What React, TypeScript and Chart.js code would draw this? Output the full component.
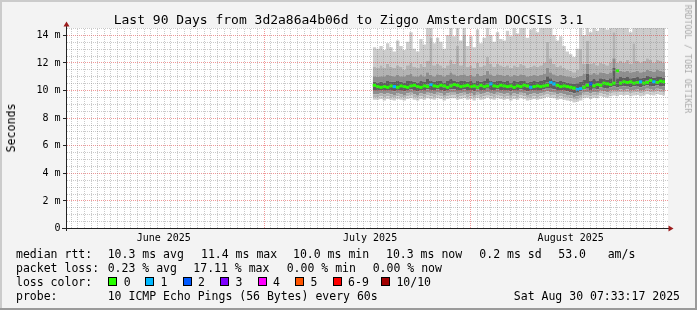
import React, { useEffect, useRef } from "react";
import { Chart, registerables } from "chart.js";

Chart.register(...registerables);

// x values are days since 2025-06-01 00:00
const X_MIN = 0.315; // Jun 1 07:33
const X_MAX = 90.315; // Aug 30 07:33
const Y_MAX = 14.5; // ms
const T0 = 46.4; // first sample (Jul 17)
const STEP = 0.5; // days between samples

const yTickValues = [0, 2, 4, 6, 8, 10, 12, 14];
const yTickLabels = ["0", "2 m", "4 m", "6 m", "8 m", "10 m", "12 m", "14 m"];
const monthLabels = ["June 2025", "July 2025", "August 2025"];
const monthLabelDays = [15.0, 46.0, 76.15];
const monthStartDays = [30, 61];

// smoke boundaries (ms), bottom to top
const lo4 = [
  9.4, 9.3, 9.3, 9.35, 9.25, 9.35, 9.3, 9.25, 9.35, 9.3,
  9.25, 9.35, 9.4, 9.3, 9.25, 9.35, 9.3, 9.4, 9.35, 9.3,
  9.4, 9.35, 9.25, 9.35, 9.4, 9.4, 9.3, 9.35, 9.4, 9.3,
  9.35, 9.25, 9.4, 9.3, 9.35, 9.45, 9.35, 9.3, 9.4, 9.35,
  9.3, 9.35, 9.25, 9.35, 9.3, 9.4, 9.35, 9.25, 9.3, 9.35,
  9.3, 9.35, 9.4, 9.5, 9.45, 9.4, 9.3, 9.35, 9.3, 9.25,
  9.2, 9.1, 9.15, 9.25, 9.4, 9.45, 9.35, 9.45, 9.4, 9.55,
  9.5, 9.45, 9.55, 9.6, 9.55, 9.65, 9.6, 9.65, 9.55, 9.6,
  9.65, 9.55, 9.6, 9.7, 9.65, 9.6, 9.7, 9.65, 9.6,
];
const lo3 = [
  9.6, 9.5, 9.5, 9.55, 9.5, 9.55, 9.5, 9.45, 9.55, 9.5,
  9.45, 9.55, 9.6, 9.5, 9.45, 9.55, 9.5, 9.6, 9.55, 9.5,
  9.6, 9.55, 9.45, 9.55, 9.6, 9.6, 9.5, 9.55, 9.6, 9.5,
  9.55, 9.45, 9.6, 9.5, 9.55, 9.65, 9.55, 9.5, 9.6, 9.55,
  9.5, 9.55, 9.45, 9.55, 9.5, 9.6, 9.55, 9.45, 9.5, 9.55,
  9.5, 9.55, 9.6, 9.7, 9.65, 9.6, 9.5, 9.55, 9.5, 9.45,
  9.4, 9.3, 9.35, 9.45, 9.6, 9.65, 9.55, 9.65, 9.6, 9.75,
  9.7, 9.65, 9.75, 9.8, 9.8, 9.85, 9.8, 9.85, 9.75, 9.8,
  9.85, 9.75, 9.8, 9.9, 9.85, 9.8, 9.9, 9.85, 9.8,
];
const lo2 = [
  9.8, 9.7, 9.7, 9.75, 9.7, 9.75, 9.7, 9.65, 9.75, 9.7,
  9.65, 9.75, 9.8, 9.7, 9.65, 9.75, 9.7, 9.8, 9.75, 9.7,
  9.8, 9.75, 9.65, 9.75, 9.8, 9.8, 9.7, 9.75, 9.8, 9.7,
  9.75, 9.65, 9.8, 9.7, 9.75, 9.85, 9.75, 9.7, 9.8, 9.75,
  9.7, 9.75, 9.65, 9.75, 9.7, 9.8, 9.75, 9.65, 9.7, 9.75,
  9.7, 9.75, 9.8, 9.9, 9.85, 9.8, 9.7, 9.75, 9.7, 9.65,
  9.6, 9.5, 9.55, 9.65, 9.8, 9.85, 9.75, 9.85, 9.8, 9.95,
  9.9, 9.85, 9.95, 10.0, 9.95, 10.05, 10.0, 10.05, 9.95, 10.0,
  10.05, 9.95, 10.0, 10.1, 10.05, 10.0, 10.1, 10.05, 10.0,
];
const lo1 = [
  10.05, 9.95, 9.95, 10.0, 9.95, 10.0, 9.95, 9.9, 10.0, 9.95,
  9.9, 10.0, 10.05, 9.95, 9.9, 10.0, 9.95, 10.05, 10.0, 9.95,
  10.05, 10.0, 9.9, 10.0, 10.05, 10.05, 9.95, 10.0, 10.05, 9.95,
  10.0, 9.9, 10.05, 9.95, 10.0, 10.1, 10.0, 9.95, 10.05, 10.0,
  9.95, 10.0, 9.9, 10.0, 9.95, 10.05, 10.0, 9.9, 9.95, 10.0,
  9.95, 10.0, 10.05, 10.15, 10.1, 10.05, 9.95, 10.0, 9.95, 9.9,
  9.85, 9.75, 9.8, 9.9, 10.05, 10.1, 10.0, 10.1, 10.05, 10.2,
  10.15, 10.1, 10.2, 10.25, 10.2, 10.3, 10.25, 10.3, 10.2, 10.25,
  10.3, 10.2, 10.25, 10.35, 10.3, 10.25, 10.35, 10.3, 10.25,
];
// median rtt (ms)
const med = [
  10.35, 10.25, 10.2, 10.25, 10.2, 10.3, 10.25, 10.2, 10.3, 10.25,
  10.2, 10.3, 10.35, 10.25, 10.2, 10.3, 10.25, 10.4, 10.3, 10.25,
  10.35, 10.3, 10.2, 10.3, 10.4, 10.35, 10.25, 10.3, 10.35, 10.25,
  10.3, 10.2, 10.35, 10.25, 10.3, 10.45, 10.3, 10.25, 10.35, 10.3,
  10.25, 10.3, 10.2, 10.3, 10.25, 10.35, 10.3, 10.2, 10.25, 10.3,
  10.25, 10.3, 10.35, 10.55, 10.45, 10.35, 10.25, 10.3, 10.25, 10.2,
  10.15, 10.05, 10.1, 10.2, 10.35, 10.45, 10.3, 10.4, 10.35, 10.5,
  10.45, 10.4, 10.5, 11.4, 10.5, 10.6, 10.55, 10.6, 10.5, 10.55,
  10.6, 10.5, 10.55, 10.7, 10.6, 10.55, 10.65, 10.6, 10.55,
];
const hi1 = [
  10.7, 10.6, 10.55, 10.6, 10.55, 10.65, 10.6, 10.6, 10.65, 10.6,
  10.55, 10.65, 10.7, 10.6, 10.55, 10.7, 10.6, 10.8, 10.65, 10.6,
  10.7, 10.65, 10.55, 10.7, 10.8, 10.7, 10.6, 10.65, 10.7, 10.6,
  10.65, 10.55, 10.7, 10.6, 10.65, 10.85, 10.7, 10.6, 10.7, 10.65,
  10.6, 10.65, 10.55, 10.65, 10.6, 10.7, 10.65, 10.55, 10.6, 10.65,
  10.6, 10.65, 10.75, 11.0, 10.85, 10.7, 10.6, 10.65, 10.6, 10.55,
  10.5, 10.45, 10.5, 10.6, 10.75, 11.2, 10.7, 10.8, 10.7, 10.85,
  10.8, 10.75, 10.85, 11.6, 10.85, 10.95, 10.9, 10.95, 10.85, 10.9,
  10.95, 10.85, 10.9, 11.05, 10.95, 10.9, 11.0, 10.95, 10.9,
];
const hi2 = [
  11.1, 11.0, 10.95, 11.0, 11.0, 11.1, 11.05, 11.0, 11.1, 11.0,
  11.0, 11.1, 11.2, 11.0, 11.0, 11.15, 11.0, 11.3, 11.1, 11.0,
  11.15, 11.1, 11.0, 11.1, 11.3, 11.15, 11.05, 11.1, 11.15, 11.05,
  11.1, 11.0, 11.2, 11.05, 11.1, 11.4, 11.15, 11.05, 11.15, 11.1,
  11.05, 11.1, 11.0, 11.1, 11.05, 11.15, 11.1, 11.0, 11.05, 11.1,
  11.05, 11.1, 11.2, 11.6, 11.3, 11.15, 11.05, 11.1, 11.05, 11.0,
  10.95, 10.9, 10.95, 11.05, 11.2, 11.9, 11.15, 11.25, 11.15, 11.3,
  11.25, 11.2, 11.3, 12.3, 11.3, 11.4, 11.35, 11.4, 11.3, 11.35,
  11.4, 11.3, 11.35, 11.5, 11.4, 11.35, 11.45, 11.4, 11.35,
];
const hi3 = [
  11.9, 11.7, 11.6, 11.8, 11.6, 11.9, 11.7, 11.6, 11.8, 11.7,
  11.5, 11.8, 12.0, 11.7, 11.6, 11.9, 11.7, 12.1, 13.8, 11.8,
  11.9, 11.8, 11.6, 11.8, 12.2, 11.9, 13.2, 11.8, 14.0, 11.7,
  11.8, 11.6, 12.0, 11.7, 11.8, 12.4, 11.9, 11.7, 11.9, 11.8,
  11.7, 11.8, 11.6, 11.8, 11.7, 11.9, 11.8, 11.6, 11.7, 11.8,
  11.7, 11.8, 12.0, 13.5, 12.3, 11.9, 11.7, 11.8, 11.6, 11.5,
  11.4, 11.3, 11.5, 13.0, 11.9, 13.6, 11.9, 12.0, 11.8, 12.0,
  11.9, 11.8, 12.0, 14.2, 12.0, 12.1, 12.0, 12.2, 11.9, 13.4,
  12.1, 12.0, 12.1, 12.3, 12.2, 12.0, 12.2, 12.1, 12.0,
];
const hi4 = [
  15, 13.1, 13.0, 13.2, 12.9, 13.4, 13.1, 12.8, 13.6, 13.2,
  12.9, 13.5, 14.2, 13.0, 12.8, 13.7, 13.3, 15, 15, 13.4,
  13.8, 13.5, 13.0, 14.0, 15, 13.9, 15, 13.6, 15, 13.2,
  13.9, 13.1, 14.4, 13.4, 13.8, 15, 14.0, 13.5, 14.2, 13.7,
  13.6, 14.3, 13.9, 15, 14.1, 14.5, 15, 13.8, 14.4, 15,
  14.2, 15, 14.6, 15, 15, 14.0, 13.6, 13.9, 13.2, 12.8,
  12.6, 12.4, 13.0, 15, 14.0, 15, 14.2, 15, 14.3, 15,
  15, 14.4, 15, 15, 14.8, 15, 14.6, 15, 14.2, 15,
  15, 14.5, 15, 15, 15, 14.7, 15, 15, 14.6,
];
// lost pings per sample (of 10)
const loss = [
  0, 0, 0, 0, 0, 0, 1, 0, 0, 0,
  0, 0, 0, 0, 0, 0, 0, 1, 0, 0,
  0, 0, 0, 0, 0, 0, 0, 0, 0, 0,
  0, 0, 0, 0, 0, 1, 0, 0, 0, 0,
  0, 0, 0, 0, 0, 0, 0, 1, 0, 0,
  0, 0, 0, 1, 1, 0, 0, 0, 0, 0,
  0, 1, 1, 0, 0, 2, 0, 0, 0, 0,
  0, 0, 0, 0, 0, 0, 0, 0, 0, 0,
  1, 0, 0, 0, 1, 0, 0, 0, 0,
];

const lossLabels = ["0", "1", "2", "3", "4", "5", "6-9", "10/10"];
const lossColors = ["#26ff00", "#00b8ff", "#0059ff", "#7e00ff", "#ff00ff", "#ff5500", "#ff0000", "#a10000"];

const rttLabel = "median rtt:";
const rttStats = ["10.3 ms avg", "11.4 ms max", "10.0 ms min", "10.3 ms now", "0.2 ms sd", "53.0", "am/s"];
const lossLabel = "packet loss:";
const lossStats = ["0.23 % avg", "17.11 % max", "0.00 % min", "0.00 % now"];
const probeText = "10 ICMP Echo Pings (56 Bytes) every 60s";
const stampText = "Sat Aug 30 07:33:17 2025";
const titleText = "Last 90 Days from 3d2a86a4b06d to Ziggo Amsterdam DOCSIS 3.1";

// layout
const rttStatX = [107.7, 201, 293, 386, 479.3, 558.3, 607.7];
const lossStatX = [107.7, 193.3, 286.7, 372.7];
const boxX = [108.3, 145, 182.7, 220, 257.7, 295, 332.7, 381];

const MONO = '"DejaVu Sans Mono", monospace';
const SMOKE = ["#cdcdcd", "#b3b3b3", "#8f8f8f", "#5e5e5e"];
const MINOR = "rgba(128,128,128,0.42)";
const MAJOR = "rgba(225,50,50,0.5)";
const GRID_RIGHT_EXTRA = 3;

const rrdPlugin = {
  id: "rrdDecor",
  beforeDraw(chart: any) {
    const { ctx, chartArea: a, width, height } = chart;
    ctx.save();
    ctx.fillStyle = "#f3f3f3";
    ctx.fillRect(0, 0, width, height);
    ctx.fillStyle = "#ffffff";
    ctx.fillRect(a.left, a.top, a.right + GRID_RIGHT_EXTRA - a.left, a.bottom - a.top);
    ctx.fillStyle = "#cbcbcb";
    ctx.fillRect(0, 0, width, 2);
    ctx.fillRect(0, 0, 2, height);
    ctx.fillStyle = "#9a9a9a";
    ctx.fillRect(0, height - 2, width, 2);
    ctx.fillRect(width - 2, 0, 2, height);
    ctx.restore();
  },
  afterDatasetsDraw(chart: any) {
    // dotted rrdtool-style grid drawn on top of the smoke
    const { ctx, chartArea: a } = chart;
    const xs = chart.scales.x;
    const ys = chart.scales.y;
    const xL = Math.round(a.left) + 1;
    const xR = Math.round(a.right) + GRID_RIGHT_EXTRA;
    const yT = Math.round(a.top);
    const yB = Math.round(a.bottom);
    ctx.save();
    for (const t of ys.ticks) {
      const v = t.value;
      const row = Math.round(ys.getPixelForValue(v));
      if (row >= yB) continue;
      ctx.fillStyle = v % 2 === 0 ? MAJOR : MINOR;
      for (let x = xL; x < xR; x += 2) ctx.fillRect(x, row, 1, 1);
    }
    for (const t of xs.ticks) {
      const v = t.value;
      const col = Math.round(xs.getPixelForValue(v));
      ctx.fillStyle = monthStartDays.includes(v) ? MAJOR : MINOR;
      for (let y = yB - 1; y >= yT; y -= 2) ctx.fillRect(col, y, 1, 1);
    }
    ctx.restore();
  },
  afterDraw(chart: any) {
    const { ctx, chartArea: a } = chart;
    const xs = chart.scales.x;
    const ys = chart.scales.y;
    ctx.save();
    // axes
    ctx.strokeStyle = "#222";
    ctx.lineWidth = 1;
    ctx.beginPath();
    ctx.moveTo(a.left + 0.5, a.bottom + 3);
    ctx.lineTo(a.left + 0.5, a.top - 2);
    ctx.moveTo(a.left - 4, a.bottom + 0.5);
    ctx.lineTo(a.right + 4, a.bottom + 0.5);
    ctx.stroke();
    ctx.beginPath();
    yTickValues.forEach((v) => {
      const y = Math.round(ys.getPixelForValue(v)) + 0.5;
      ctx.moveTo(a.left - 3, y);
      ctx.lineTo(a.left, y);
    });
    ctx.stroke();
    // arrows
    ctx.fillStyle = "#9c1c1c";
    ctx.beginPath();
    ctx.moveTo(a.left + 0.5, a.top - 6.5);
    ctx.lineTo(a.left - 2.5, a.top - 1.5);
    ctx.lineTo(a.left + 3.5, a.top - 1.5);
    ctx.closePath();
    ctx.fill();
    ctx.beginPath();
    ctx.moveTo(a.right + 8.5, a.bottom + 0.5);
    ctx.lineTo(a.right + 3.5, a.bottom - 2.5);
    ctx.lineTo(a.right + 3.5, a.bottom + 3.5);
    ctx.closePath();
    ctx.fill();
    // tick labels
    ctx.fillStyle = "#000";
    ctx.font = '10px "DejaVu Sans Mono"';
    ctx.textAlign = "right";
    ctx.textBaseline = "middle";
    yTickValues.forEach((v, i) => {
      ctx.fillText(yTickLabels[i], 60.5, ys.getPixelForValue(v) + 0.5);
    });
    ctx.textAlign = "center";
    ctx.textBaseline = "alphabetic";
    monthLabels.forEach((m, i) => {
      ctx.fillText(m, xs.getPixelForValue(monthLabelDays[i]), 241);
    });
    ctx.restore();
  },
};

export default function App() {
  const ref = useRef<HTMLCanvasElement>(null);

  useEffect(() => {
    const times = med.map((_, i) => T0 + i * STEP);
    const pts = (arr: number[]) => arr.map((v, i) => ({ x: times[i], y: v }));
    // median drawn as one short block per sample (no vertical joins), like smokeping
    const medBlocks: any[] = [];
    med.forEach((v, i) => {
      medBlocks.push({ x: times[i], y: v });
      medBlocks.push({ x: times[i] + STEP, y: v });
      medBlocks.push({ x: times[i] + STEP, y: null });
    });
    const band = (arr: number[], color: string | null) => ({
      data: pts(arr),
      fill: color ? "-1" : false,
      backgroundColor: color || "transparent",
      borderColor: "transparent",
      borderWidth: 0,
      pointRadius: 0,
      stepped: "after",
      order: 1,
    });
    const datasets: any[] = [
      band(lo4, null),
      band(lo3, SMOKE[0]),
      band(lo2, SMOKE[1]),
      band(lo1, SMOKE[2]),
      band(med, SMOKE[3]),
      band(hi1, SMOKE[3]),
      band(hi2, SMOKE[2]),
      band(hi3, SMOKE[1]),
      band(hi4, SMOKE[0]),
      {
        data: medBlocks,
        fill: false,
        spanGaps: false,
        borderColor: lossColors[0],
        borderWidth: 3,
        borderCapStyle: "butt",
        pointRadius: 0,
        order: 0,
        segment: {
          borderColor: (c: any) => lossColors[loss[Math.floor(c.p0DataIndex / 3)]],
        },
      },
    ];

    const chart = new Chart(ref.current as HTMLCanvasElement, {
      type: "line",
      data: { datasets },
      options: {
        responsive: false,
        devicePixelRatio: 1,
        animation: false,
        events: [],
        layout: { padding: { left: 66, top: 28, right: 32, bottom: 82 } },
        plugins: {
          legend: { display: false },
          title: { display: false },
          tooltip: { enabled: false },
        },
        scales: {
          x: {
            type: "linear",
            min: X_MIN,
            max: X_MAX,
            ticks: { display: false, autoSkip: false },
            border: { display: false },
            grid: { display: false, drawTicks: false },
            afterBuildTicks: (s: any) => {
              const t = [];
              for (let d = 1; d <= 90; d++) t.push({ value: d });
              s.ticks = t;
            },
          },
          y: {
            type: "linear",
            min: 0,
            max: Y_MAX,
            ticks: { display: false, autoSkip: false },
            border: { display: false },
            grid: { display: false, drawTicks: false },
            afterBuildTicks: (s: any) => {
              const t = [];
              for (let k = 0; k <= 29; k++) t.push({ value: k / 2 });
              s.ticks = t;
            },
          },
        },
      } as any,
      plugins: [rrdPlugin as any],
    });
    return () => chart.destroy();
  }, []);

  const lineTop = (baseline: number) => baseline - 11;
  const txt = (s: string, x: number, baseline: number, key: string) => (
    <div
      key={key}
      style={{
        position: "absolute",
        left: x,
        top: lineTop(baseline),
        fontSize: 11.5,
        lineHeight: "14px",
        whiteSpace: "pre",
      }}
    >
      {s}
    </div>
  );

  return (
    <div
      style={{
        position: "relative",
        width: 697,
        height: 310,
        overflow: "hidden",
        fontFamily: MONO,
        color: "#000",
      }}
    >
      <style>{"body{margin:0}"}</style>
      <canvas ref={ref} width={697} height={310} style={{ position: "absolute", left: 0, top: 0 }} />
      <div
        style={{
          position: "absolute",
          left: 0,
          top: 11.5,
          width: 697,
          textAlign: "center",
          fontSize: 13,
          lineHeight: "16px",
          whiteSpace: "pre",
        }}
      >
        {titleText}
      </div>
      <div
        style={{
          position: "absolute",
          left: 10.5,
          top: 127.5,
          fontSize: 11.6,
          lineHeight: "14px",
          whiteSpace: "pre",
          transform: "translate(-50%, -50%) rotate(-90deg)",
        }}
      >
        Seconds
      </div>
      <div
        style={{
          position: "absolute",
          left: 688,
          top: 59,
          fontSize: 8.2,
          lineHeight: "10px",
          whiteSpace: "pre",
          color: "#a9a9a9",
          transform: "translate(-50%, -50%) rotate(90deg)",
        }}
      >
        RRDTOOL / TOBI OETIKER
      </div>
      {txt(rttLabel, 16, 257.7, "rl")}
      {rttStats.map((s, i) => txt(s, rttStatX[i], 257.7, "r" + i))}
      {txt(lossLabel, 16, 272, "ll")}
      {lossStats.map((s, i) => txt(s, lossStatX[i], 272, "l" + i))}
      {txt("loss color:", 16, 286, "cl")}
      {lossLabels.map((s, i) => (
        <React.Fragment key={"c" + i}>
          <div
            style={{
              position: "absolute",
              left: boxX[i],
              top: 277,
              width: 9,
              height: 9,
              boxSizing: "border-box",
              border: "1px solid #000",
              background: lossColors[i],
            }}
          />
          {txt(s, boxX[i] + 15.4, 286, "cl" + i)}
        </React.Fragment>
      ))}
      {txt("probe:", 16, 300, "pl")}
      {txt(probeText, 107.7, 300, "pt")}
      <div
        style={{
          position: "absolute",
          right: 697 - 680,
          top: lineTop(300),
          fontSize: 11.5,
          lineHeight: "14px",
          whiteSpace: "pre",
        }}
      >
        {stampText}
      </div>
    </div>
  );
}
